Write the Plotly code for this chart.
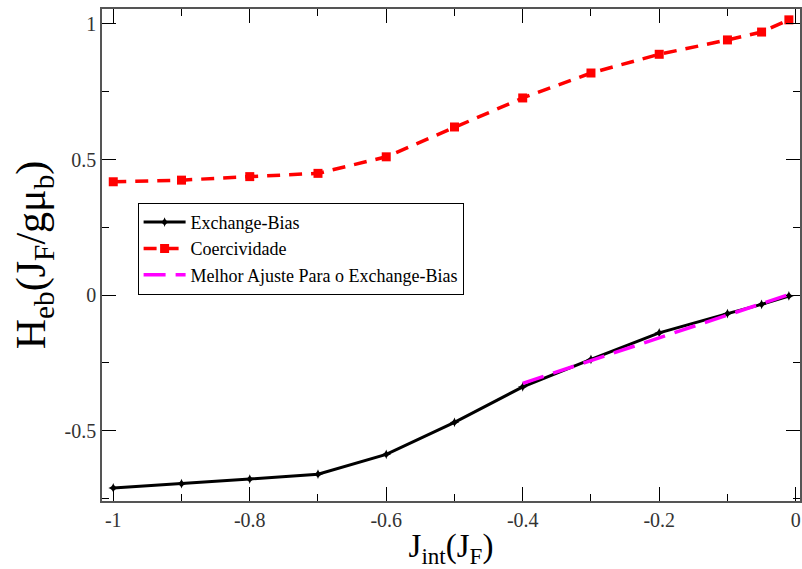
import plotly.graph_objects as go

# Data
x_eb = [-1.0, -0.9, -0.8, -0.7, -0.6, -0.5, -0.4, -0.3, -0.2, -0.1, -0.05, -0.01]
y_eb = [-0.711, -0.695, -0.678, -0.660, -0.587, -0.469, -0.338, -0.237, -0.139, -0.068, -0.034, -0.003]

x_co = [-1.0, -0.9, -0.8, -0.7, -0.6, -0.5, -0.4, -0.3, -0.2, -0.1, -0.05, -0.01]
y_co = [0.418, 0.424, 0.437, 0.449, 0.510, 0.620, 0.727, 0.819, 0.888, 0.941, 0.970, 1.015]

x_fit = [-0.4, -0.01]
y_fit = [-0.325, 0.002]

x_ticks = [-1, -0.8, -0.6, -0.4, -0.2, 0]
x_ticklabels = ["-1", "-0.8", "-0.6", "-0.4", "-0.2", "0"]
y_ticks = [-0.5, 0, 0.5, 1]
y_ticklabels = ["-0.5", "0", "0.5", "1"]

serif = "Liberation Serif, Times New Roman, serif"

fig = go.Figure()
fig.add_trace(go.Scatter(
    x=x_eb, y=y_eb, mode="lines+markers", name="Exchange-Bias",
    line=dict(color="black", width=3),
    marker=dict(symbol="star-diamond", size=7, color="black"),
))
fig.add_trace(go.Scatter(
    x=x_co, y=y_co, mode="lines+markers", name="Coercividade",
    line=dict(color="#ff0000", width=3.5, dash="13px,9px"),
    marker=dict(symbol="square", size=9, color="#ff0000"),
))
fig.add_trace(go.Scatter(
    x=x_fit, y=y_fit, mode="lines", name="Melhor Ajuste Para o Exchange-Bias",
    line=dict(color="#ff00ff", width=3.5, dash="22px,10px"),
))

axis_common = dict(
    showline=True, linecolor="#555555", linewidth=1.5, mirror="ticks",
    ticks="inside", ticklen=14, tickwidth=1.2, tickcolor="black",
    showgrid=False, zeroline=False,
    tickfont=dict(family=serif, size=20, color="#333333"),
)

fig.update_layout(
    width=802, height=569,
    margin=dict(l=102, r=0, t=9, b=68),
    paper_bgcolor="white", plot_bgcolor="white",
    showlegend=True,
    legend=dict(
        x=0.051, y=0.606, xanchor="left", yanchor="top",
        bgcolor="white", bordercolor="black", borderwidth=1,
        font=dict(family=serif, size=18, color="black"),
        tracegroupgap=0, itemwidth=42,
    ),
    xaxis=dict(
        range=[-1.0165, 0.0063], tickvals=x_ticks, ticktext=x_ticklabels,
        minor=dict(dtick=0.1, tick0=0, ticks="inside", ticklen=7, tickcolor="black", tickwidth=1.2),
        title=dict(text="J<sub>int</sub>(J<sub>F</sub>)", font=dict(family=serif, size=33, color="black"), standoff=4),
        **axis_common,
    ),
    yaxis=dict(
        range=[-0.759, 1.055], tickvals=y_ticks, ticktext=y_ticklabels,
        minor=dict(dtick=0.25, tick0=0, ticks="inside", ticklen=7, tickcolor="black", tickwidth=1.2),
        title=dict(text="H<sub>eb</sub>(J<sub>F</sub>/gμ<sub>b</sub>)", font=dict(family=serif, size=42, color="black"), standoff=6),
        **axis_common,
    ),
)

fig.write_html("out.html")
